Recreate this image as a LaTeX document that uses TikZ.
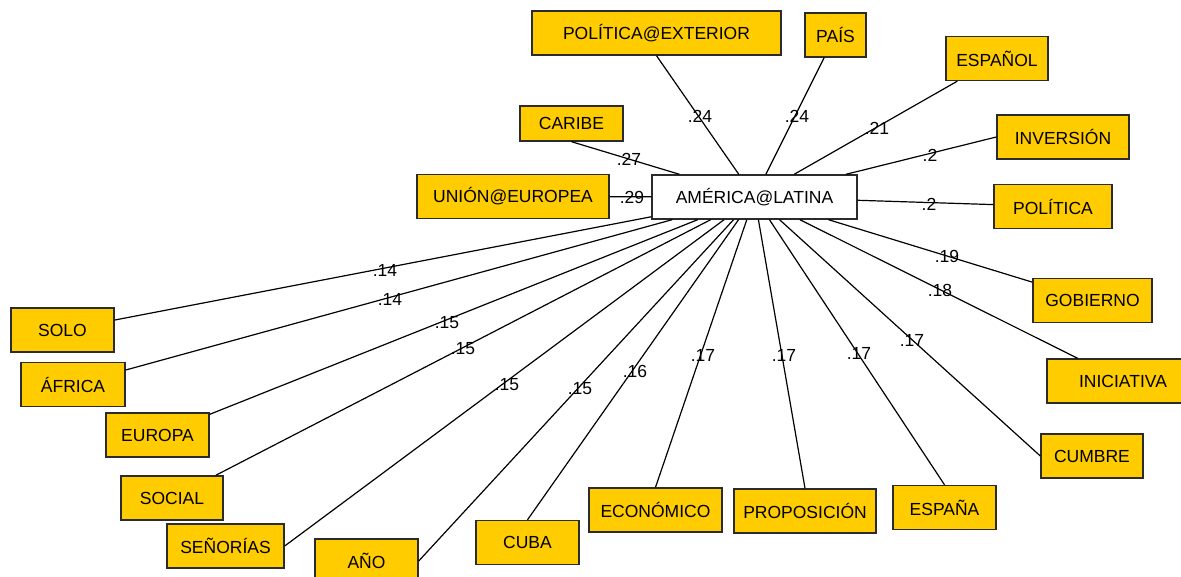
\documentclass[tikz,border=0pt]{standalone}
\usepackage{fontspec}
\setmainfont{Liberation Sans}
\usepackage[svgnames, dvipsnames]{xcolor}
\usetikzlibrary{calc}

\definecolor{boxgold}{HTML}{FFCC00}
\definecolor{boxline}{HTML}{2B2B2B}

\tikzset{
    term/.style={draw=boxline, line width=1.4pt, fill=boxgold, minimum height=44pt, inner sep=0pt, font=\fontsize{17.5}{20}\selectfont},
    hub/.style={term, fill=white},
    wt/.style={inner sep=0pt, font=\fontsize{17.5}{20}\selectfont},
    link/.style={line width=1.2pt, black}
}

\begin{document}
\begin{tikzpicture}[x=1pt, y=-1pt]
    \useasboundingbox (0,0) rectangle (1181,577);
    \clip (0,0) rectangle (1181,577); % cuts the boxes that run off the page
    \node[hub, minimum width=205pt] (amer) at (754.5,197) {AMÉRICA@LATINA};

    % upper side
    \node[term, minimum width=249pt] (polext) at (656.5,33) {POLÍTICA@EXTERIOR};
    \node[term, minimum width=61pt] (pais) at (835.5,35) {PAÍS};
    \node[term, minimum width=103pt, minimum height=35pt] (caribe) at (571.5,123.5) {CARIBE};
    \node[term, minimum width=102pt] (espanol) at (997,58.5) {ESPAÑOL};
    \node[term, minimum width=132pt] (inversion) at (1063,137) {INVERSIÓN};
    \node[term, minimum width=118pt] (politica) at (1053,206.5) {POLÍTICA};
    \node[term, minimum width=192pt] (union) at (513,196.5) {UNIÓN@EUROPEA};

    % lower left
    \node[term, minimum width=103pt] (solo) at (62.5,330) {SOLO};
    \node[term, minimum width=104pt] (africa) at (73,384.5) {ÁFRICA};
    \node[term, minimum width=103pt] (europa) at (157.5,435) {EUROPA};
    \node[term, minimum width=102pt] (social) at (172,498) {SOCIAL};
    \node[term, minimum width=117pt] (senorias) at (225.5,546) {SEÑORÍAS};
    \node[term, minimum width=103pt] (ano) at (366.5,561) {AÑO};
    \node[term, minimum width=103pt] (cuba) at (527.5,542.5) {CUBA};

    % lower right
    \node[term, minimum width=133pt] (economico) at (655.5,510) {ECONÓMICO};
    \node[term, minimum width=142pt] (proposicion) at (805,511) {PROPOSICIÓN};
    \node[term, minimum width=103pt] (espana) at (944.5,507.5) {ESPAÑA};
    \node[term, minimum width=102pt] (cumbre) at (1092,456) {CUMBRE};
    \node[term, minimum width=152pt] (iniciativa) at (1123,381) {INICIATIVA};
    \node[term, minimum width=119pt] (gobierno) at (1092.5,300.5) {GOBIERNO};

    % links, some end on an anchor instead of the center
    \foreach \t in {polext.south, pais, caribe.south, espanol, inversion.west, politica, union,
        solo, africa, europa, social, senorias.east, ano.east, cuba.north,
        economico.north, proposicion.north, espana.north, cumbre.west, iniciativa, gobierno}
        \draw[link] (amer) -- (\t);

    % weights
    \node[wt] (w-polext) at (700,116) {.24};
    \node[wt] (w-pais) at (797,116) {.24};
    \node[wt] (w-espanol) at (877,128) {.21};
    \node[wt] (w-inversion) at (930,155) {.2};
    \node[wt] (w-politica) at (929,204) {.2};
    \node[wt] (w-caribe) at (629,159) {.27};
    \node[wt] (w-union) at (632,197) {.29};
    \node[wt] (w-gobierno) at (947,256) {.19};
    \node[wt] (w-iniciativa) at (940,290) {.18};
    \node[wt] (w-cumbre) at (912,340) {.17};
    \node[wt] (w-espana) at (859,353) {.17};
    \node[wt] (w-proposicion) at (784,355) {.17};
    \node[wt] (w-economico) at (703,355) {.17};
    \node[wt] (w-cuba) at (635,371) {.16};
    \node[wt] (w-ano) at (580,389) {.15};
    \node[wt] (w-senorias) at (507,385) {.15};
    \node[wt] (w-social) at (463,349) {.15};
    \node[wt] (w-europa) at (447,323) {.15};
    \node[wt] (w-africa) at (390,299) {.14};
    \node[wt] (w-solo) at (385,270) {.14};
\end{tikzpicture}
\end{document}
